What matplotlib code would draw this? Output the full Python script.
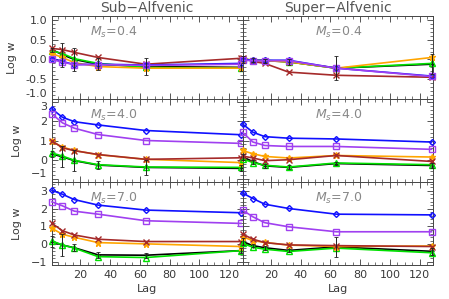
import numpy as np
import matplotlib
matplotlib.use("Agg")
import matplotlib.pyplot as plt
from matplotlib.ticker import MultipleLocator

# lags used for the structure function
lags = [1, 8, 16, 32, 64, 128]

series_names = ["black", "green", "orange", "brown", "blue", "purple"]

# Log w for each panel
sub_04 = {
    "black":  [0.25, 0.12, 0.00, -0.12, -0.18, -0.20],
    "green":  [0.22, 0.15, 0.02, -0.10, -0.20, -0.22],
    "orange": [0.15, 0.05, -0.08, -0.18, -0.22, -0.22],
    "brown":  [0.28, 0.25, 0.18, 0.05, -0.12, 0.03],
    "blue":   [0.02, -0.05, -0.13, -0.12, -0.14, -0.10],
    "purple": [0.00, -0.07, -0.13, -0.13, -0.15, -0.12],
}
sup_04 = {
    "black":  [0.00, -0.02, -0.03, -0.06, -0.22, -0.12],
    "green":  [0.02, -0.02, -0.02, -0.06, -0.22, -0.10],
    "orange": [0.02, -0.02, -0.03, -0.06, -0.22, 0.05],
    "brown":  [0.04, -0.05, -0.10, -0.32, -0.40, -0.45],
    "blue":   [0.00, -0.02, -0.02, -0.02, -0.22, -0.42],
    "purple": [-0.02, -0.03, -0.03, -0.03, -0.22, -0.43],
}
sub_40 = {
    "black":  [0.30, 0.15, -0.05, -0.28, -0.40, -0.45],
    "green":  [0.35, 0.19, -0.03, -0.26, -0.38, -0.40],
    "orange": [0.95, 0.66, 0.48, 0.26, 0.02, -0.15],
    "brown":  [0.98, 0.62, 0.47, 0.27, 0.02, 0.10],
    "blue":   [2.64, 2.21, 1.98, 1.81, 1.52, 1.30],
    "purple": [2.38, 1.92, 1.64, 1.31, 1.00, 0.85],
}
sup_40 = {
    "black":  [0.15, -0.10, -0.32, -0.40, -0.20, -0.30],
    "green":  [0.05, -0.15, -0.29, -0.38, -0.17, -0.26],
    "orange": [0.48, 0.31, 0.17, 0.09, 0.22, 0.14],
    "brown":  [0.19, 0.09, -0.05, 0.00, 0.22, -0.09],
    "blue":   [1.86, 1.43, 1.20, 1.12, 1.08, 0.92],
    "purple": [1.43, 0.92, 0.74, 0.69, 0.69, 0.54],
}
sub_70 = {
    "black":  [0.15, -0.05, -0.20, -0.60, -0.62, -0.36],
    "green":  [0.18, -0.04, -0.22, -0.70, -0.75, -0.36],
    "orange": [0.89, 0.56, 0.39, 0.09, 0.02, -0.13],
    "brown":  [1.17, 0.76, 0.52, 0.28, 0.15, 0.15],
    "blue":   [3.03, 2.81, 2.51, 2.20, 1.92, 1.77],
    "purple": [2.38, 2.16, 1.86, 1.69, 1.32, 1.17],
}
sup_70 = {
    "black":  [0.15, -0.08, -0.20, -0.35, -0.15, -0.40],
    "green":  [0.05, -0.17, -0.28, -0.41, -0.22, -0.48],
    "orange": [0.42, 0.20, 0.10, -0.05, -0.13, -0.10],
    "brown":  [0.57, 0.28, 0.09, -0.04, -0.08, -0.13],
    "blue":   [2.88, 2.57, 2.25, 2.01, 1.69, 1.65],
    "purple": [1.92, 1.54, 1.21, 0.98, 0.70, 0.70],
}

# error bars (drawn on the black series)
err = [
    [[0.05, 0.30, 0.28, 0.15, 0.22, 0.10], [0.08, 0.05, 0.05, 0.08, 0.30, 0.25]],
    [[0.15, 0.55, 0.55, 0.20, 0.40, 0.15], [0.15, 0.10, 0.10, 0.10, 0.10, 0.15]],
    [[0.30, 0.60, 0.20, 0.15, 0.15, 0.15], [0.20, 0.10, 0.10, 0.10, 0.55, 0.20]],
]

panels = [[sub_04, sup_04], [sub_40, sup_40], [sub_70, sup_70]]
mach = ["0.4", "4.0", "7.0"]
ylims = [(-1.0, 1.1), (-1.16, 3.16), (-1.17, 3.5)]

style = {
    "black":  dict(color="black", marker="+", ms=3, mfc="none"),
    "green":  dict(color="#00e000", marker="^", ms=4.5, mfc="none"),
    "orange": dict(color="#ffa500", marker="*", ms=5),
    "brown":  dict(color="#a52a2a", marker="x", ms=4.5),
    "blue":   dict(color="#1010ff", marker="D", ms=3, mfc="none"),
    "purple": dict(color="#a040f0", marker="s", ms=5, mfc="none"),
}

gray = "#3a3a3a"
fig, axes = plt.subplots(3, 2, figsize=(4.49, 2.99), dpi=100)
fig.subplots_adjust(left=0.1158, right=0.9644, top=0.9465, bottom=0.1137,
                    hspace=0, wspace=0)

for r in range(3):
    for c in range(2):
        ax = axes[r, c]
        data = panels[r][c]
        for name in series_names:
            st = style[name]
            ax.plot(lags, data[name], color=st["color"], marker=st["marker"],
                    ms=st["ms"], mfc=st.get("mfc", st["color"]), mew=1.0,
                    lw=1.2, clip_on=False, zorder=3)
        ax.errorbar(lags, data["black"], yerr=err[r][c], fmt="none",
                    ecolor="#222222", elinewidth=0.7, capsize=1.2,
                    capthick=0.6, clip_on=False, zorder=4)
        ax.set_xlim(1, 129)
        ax.set_ylim(*ylims[r])
        ax.xaxis.set_major_locator(MultipleLocator(20))
        ax.xaxis.set_minor_locator(MultipleLocator(5))
        if r == 0:
            ax.yaxis.set_major_locator(MultipleLocator(0.5))
            ax.yaxis.set_minor_locator(MultipleLocator(0.1))
            ax.yaxis.set_major_formatter(plt.FormatStrFormatter("%.1f"))
        else:
            ax.yaxis.set_major_locator(MultipleLocator(1))
            ax.yaxis.set_minor_locator(MultipleLocator(0.2))
        ax.tick_params(which="both", direction="in", top=True, right=True,
                       colors=gray, labelsize=8, labelcolor=gray)
        ax.tick_params(which="major", length=4, width=0.6)
        ax.tick_params(which="minor", length=2, width=0.5)
        for sp in ax.spines.values():
            sp.set_color("#444444")
            sp.set_linewidth(0.7)
        if c == 1:
            ax.tick_params(labelleft=False)
        else:
            ax.set_ylabel("Log w", fontsize=8, color=gray, labelpad=6)
        if r < 2:
            ax.tick_params(labelbottom=False)
        else:
            ax.set_xlabel("Lag", fontsize=8, color=gray, labelpad=3)
        xt = 0.2 if c == 0 else 0.38
        ax.text(xt, 0.8, r"$M_s$=" + mach[r], transform=ax.transAxes,
                fontsize=9, color="#888888", va="center")

axes[0, 0].set_title("Sub\u2212Alfvenic", fontsize=10, color="#555555", pad=3)
axes[0, 1].set_title("Super\u2212Alfvenic", fontsize=10, color="#555555", pad=3)

# keep stacked tick labels at row boundaries from colliding
fig.canvas.draw()
for r in range(3):
    ax = axes[r, 0]
    labels = ax.get_yticklabels()
    lo, hi = ylims[r]
    for tick, lab in zip(ax.get_yticks(), labels):
        if r < 2 and abs(tick - np.ceil(lo)) < 1e-6:
            lab.set_va("bottom")
        if r > 0 and abs(tick - np.floor(hi)) < 1e-6 and r == 1:
            lab.set_va("top")

fig.savefig("out.png", dpi=100)
